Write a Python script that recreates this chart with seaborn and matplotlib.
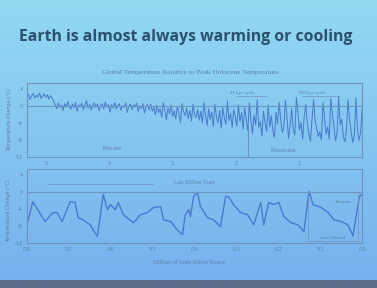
import numpy as np
import pandas as pd
import matplotlib
matplotlib.use("Agg")
import matplotlib.pyplot as plt
import seaborn as sns

# ---------------- data ----------------
slide_title = "Earth is almost always warming or cooling"
chart_title = "Global Temperature Relative to Peak Holocene Temperature"
x_label = "Millions of Years Before Present"
y_label = "Temperature Change (\u00b0C)"

# top panel: last 5.3 Myr, oldest -> youngest (deg C relative to peak Holocene)
top_values = [
    2.0, 2.8, 1.6, 2.5, 3.0, 1.9, 2.6, 2.2, 3.1, 1.8, 2.4, 2.9, 2.1, 2.7, 1.7, 2.5, 2.0, 1.2,
    0.4, -0.6, 0.8, -0.3, 0.2, -1.0, 0.6, -0.2, 1.1, 0.0, -0.7, 0.5, -0.4, 0.9, -1.2, 0.3,
    -0.1, 0.7, -0.8, 0.2, 1.3, -0.5, 0.4, -0.9, 0.1, 0.8, -0.3, 0.5, -1.1, 0.0, 0.6, -0.6,
    1.0, -0.2, 0.3, -1.4, 0.4, -0.4, 0.9, -0.7, 0.2, 0.6, -1.0, 0.1, -0.3, 0.8, -1.5, 0.0,
    0.5, -0.8, 0.3, -0.2, 0.7, -1.2, 0.1, -0.5, 0.6, -1.6, -0.2, 0.4, -0.9,
    0.5, -1.2, -0.3, -2.0, 0.2, -1.5, -0.6, -2.6, 0.8, -1.0, -3.2, -0.4, -1.8, 0.3, -2.4,
    -1.1, -3.0, -0.2, -1.6, -3.8, 0.6, -1.3, -2.2, -0.5, -2.9, -1.0, -3.5, 0.4, -1.9, -2.7,
    -0.8, -3.3,
    -1.2, -4.0, 0.9, -2.3, -4.6, -0.6, -3.1, -1.4, -4.8, 0.5, -2.6, -3.9, -1.0, -5.2, -0.3,
    -2.8, -4.3, 1.2, -3.4, -1.7, -5.0, -0.8, -2.5, -4.7, 0.3, -3.6, -1.5, -5.4, -0.4, -3.0,
    -5.8, 0.8, -3.2, -6.5, -2.1, -4.4, 1.5, -5.0, -3.6, -7.0, -1.2, -3.8, -6.0, 0.3, -4.9,
    -2.2, -5.9, -7.4, -1.4, -4.2, 0.9, -3.1, -6.2, -5.0, 1.4, -2.5, -7.6, -4.6, -0.6, -5.3,
    -6.8, 2.0, -1.5, -5.6, -3.8, -7.8, -2.4, 0.4, -4.0, -6.4, -8.3, -3.0, 1.6, -3.6, -5.2,
    -7.2, -6.1, -8.0, 0.9, -2.6, -6.6, -4.9, -7.8, 1.8, -1.9, -4.8, -8.2, -6.2, 2.2, -4.4,
    -3.1, -7.4, -8.4, -5.5, 1.5, -3.2, -6.0, -8.6, -7.0, 2.0, -5.4, -8.0, -6.3, -0.5,
]
top_start_age = 5.3
top_end_age = 0.0

# bottom panel: last 0.8 Myr
bottom_ages = [0.798, 0.786, 0.757, 0.738, 0.728, 0.716, 0.697, 0.685, 0.678, 0.666, 0.649,
               0.642, 0.632, 0.618, 0.608, 0.601, 0.589, 0.582, 0.570, 0.546, 0.529, 0.513,
               0.498, 0.481, 0.474, 0.457, 0.441, 0.429, 0.422, 0.414, 0.410, 0.402, 0.393,
               0.386, 0.369, 0.355, 0.338, 0.326, 0.319, 0.307, 0.290, 0.273, 0.259, 0.242,
               0.235, 0.223, 0.211, 0.199, 0.187, 0.170, 0.153, 0.139, 0.127, 0.117, 0.098,
               0.081, 0.067, 0.050, 0.034, 0.022, 0.007, 0.002]
bottom_values = [-6.9, -2.2, -6.9, -4.8, -4.8, -6.9, -2.2, -2.4, -6.0, -6.5, -7.7,
                 -8.9, -10.4, -0.5, -4.1, -2.9, -4.1, -2.4, -5.3, -7.2, -5.3, -4.8,
                 -3.6, -3.4, -6.5, -6.9, -8.9, -10.0, -5.3, -4.1, -5.7, -1.0, 0.0,
                 -3.4, -6.0, -6.5, -8.1, -1.0, -1.0, -2.9, -4.8, -5.3, -7.7, -2.4,
                 -7.7, -2.4, -2.9, -2.4, -5.7, -7.2, -7.7, -9.3, 0.2, -2.9, -3.6,
                 -4.8, -6.5, -6.9, -7.7, -10.3, -1.2, -0.5]

top_xticks = [5, 4, 3, 2, 1]
bottom_xticks = [0.8, 0.7, 0.6, 0.5, 0.4, 0.3, 0.2, 0.1, 0.0]
y_ticks = [4, 0, -4, -8, -12]
epoch_boundary = 1.8

df_top = pd.DataFrame({
    "age": np.linspace(top_start_age, top_end_age, len(top_values)),
    "temp": top_values,
})
df_bot = pd.DataFrame({"age": bottom_ages, "temp": bottom_values})

# ---------------- style ----------------
sns.set_style("white")
plt.rcParams["font.family"] = ["DejaVu Sans"]

line_col = "#4a78cc"
frame_col = "#6f93bf"
text_col = "#5d7fa8"

fig = plt.figure(figsize=(3.77, 2.88), dpi=100)

# background (photo of a slide)
bg = fig.add_axes([0, 0, 1, 1], zorder=-10)
bg.axis("off")
h = 288
top_c = np.array([146, 218, 242]) / 255
bot_c = np.array([118, 176, 238]) / 255
t = np.linspace(0, 1, h)[:, None]
grad = (1 - t) * top_c + t * bot_c
grad = np.repeat(grad[:, None, :], 2, axis=1)
grad[280:, :, :] = np.array([92, 110, 140]) / 255
bg.imshow(grad, aspect="auto", extent=[0, 1, 0, 1], interpolation="bilinear")
bg.set_xlim(0, 1)
bg.set_ylim(0, 1)

fig.text(0.493, 0.872, slide_title, ha="center", va="center",
         fontsize=11.3, fontweight="bold", family=["Open Sans", "DejaVu Sans"],
         color="#2a506e")
fig.text(0.504, 0.747, chart_title, ha="center", va="center",
         fontsize=5.2, family=["Liberation Serif", "DejaVu Serif"], color=text_col)

ax1 = fig.add_axes([0.0716, 0.455, 0.889, 0.257])
ax2 = fig.add_axes([0.0716, 0.156, 0.889, 0.257])

sns.lineplot(data=df_top, x="age", y="temp", ax=ax1, color=line_col, lw=0.7)
sns.lineplot(data=df_bot, x="age", y="temp", ax=ax2, color=line_col, lw=1.0)

for ax, xt in ((ax1, top_xticks), (ax2, bottom_xticks)):
    ax.set_facecolor("none")
    ax.set_yticks(y_ticks)
    ax.set_yticklabels([str(v) for v in y_ticks])
    ax.set_xticks(xt)
    ax.set_xlabel("")
    ax.set_ylabel("")
    ax.tick_params(labelsize=3.5, colors=text_col, length=1.5, width=0.5, pad=1.5)
    for s in ax.spines.values():
        s.set_color(frame_col)
        s.set_linewidth(0.8)
    ax.axhline(0, color=frame_col, lw=0.8)

ax1.set_xlim(5.3, 0)
ax1.set_ylim(-12, 5.5)
ax1.set_xticklabels([str(v) for v in top_xticks])
ax1.axvline(epoch_boundary, ymin=0, ymax=0.45, color=frame_col, lw=0.8)
ax1.text(3.95, -10.4, "Pliocene", fontsize=4, color=text_col, ha="center",
         family=["Liberation Serif"])
ax1.text(1.25, -10.8, "Pleistocene", fontsize=4, color=text_col, ha="center",
         family=["Liberation Serif"])
ax1.plot([2.0, 1.5], [2.4, 2.4], color=frame_col, lw=0.5)
ax1.text(1.9, 3.0, "41 kyr cycle", fontsize=3, color=text_col, ha="center")
ax1.plot([0.95, 0.35], [2.4, 2.4], color=frame_col, lw=0.5)
ax1.text(0.8, 3.0, "100 kyr cycle", fontsize=3, color=text_col, ha="center")

ax2.set_xlim(0.8, 0.0)
ax2.set_ylim(-12, 5.5)
ax2.set_xticklabels([f"{v:.1f}" for v in bottom_xticks])
ax2.plot([0.75, 0.5], [1.9, 1.9], color=frame_col, lw=0.5)
ax2.text(0.40, 2.0, "Last Million Years", fontsize=4, color=text_col, ha="center",
         family=["Liberation Serif"])
ax2.plot([0.13, 0.01], [-11.6, -11.6], color=frame_col, lw=0.5)
ax2.plot([0.13, 0.13], [-11.6, 0], color=frame_col, lw=0.5)
ax2.plot([0.01, 0.01], [-11.6, 0], color=frame_col, lw=0.5)
ax2.text(0.045, -2.6, "Eemian", fontsize=3.2, color=text_col, ha="center")
ax2.text(0.07, -11.0, "Last Glacial", fontsize=3.2, color=text_col, ha="center")

fig.text(0.502, 0.09, x_label, ha="center", va="center", fontsize=4,
         family=["Liberation Serif"], color=text_col)
fig.text(0.024, 0.583, y_label, ha="center", va="center", fontsize=3.5,
         rotation=90, color=text_col)
fig.text(0.022, 0.27, y_label, ha="center", va="center", fontsize=3.5,
         rotation=90, color=text_col)

fig.savefig("out.png", dpi=100)
